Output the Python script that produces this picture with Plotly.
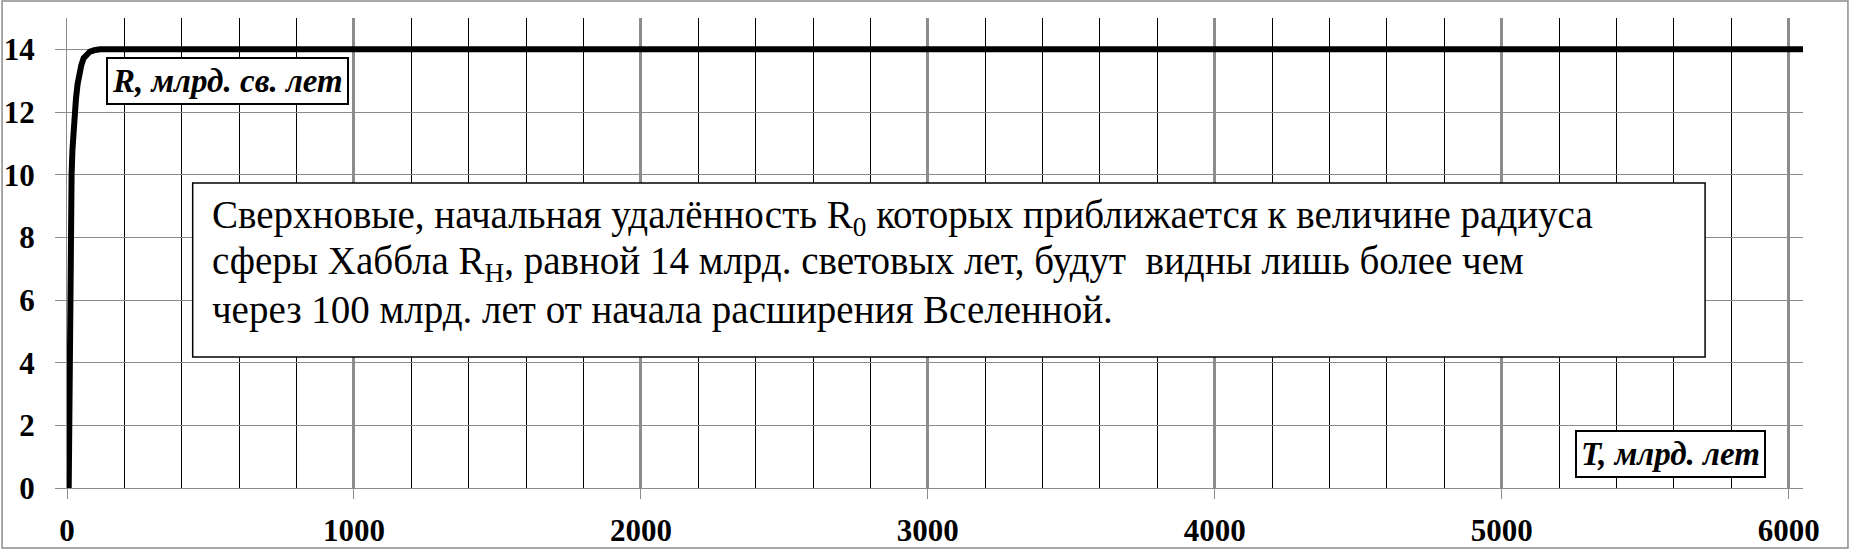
import plotly.graph_objects as go

# time, bn years / distance, bn light years
t_vals = [6, 7, 8, 9, 10.5, 12, 14, 16, 19, 23, 27, 31, 37, 43, 50, 58, 68, 80, 95, 115, 150,
          300, 1000, 2000, 3000, 4000, 5000, 6050]
r_vals = [0, 2, 4, 6, 8, 8.7, 9.4, 10, 10.8, 11.5, 12, 12.4, 12.9, 13.25, 13.5, 13.72, 13.85, 13.93,
          13.97, 14, 14, 14, 14, 14, 14, 14, 14, 14]

note_lines = [
    "Сверхновые, начальная удалённость R<sub>0</sub> которых приближается к величине радиуса",
    "сферы Хаббла R<sub>H</sub>, равной 14 млрд. световых лет, будут  видны лишь более чем",
    "через 100 млрд. лет от начала расширения Вселенной.",
]
y_title = "R, млрд. св. лет"
x_title = "T, млрд. лет"

serif = "Liberation Serif, Times New Roman, DejaVu Serif, serif"

fig = go.Figure()
fig.add_trace(go.Scatter(x=t_vals, y=r_vals, mode="lines",
                         line=dict(color="black", width=6), showlegend=False,
                         hoverinfo="skip"))

fig.update_xaxes(range=[0, 6050], dtick=1000, tick0=0, automargin=False,
                 showgrid=True, gridcolor="#8c8c8c", gridwidth=3,
                 minor=dict(dtick=200, showgrid=True, gridcolor="black", gridwidth=1, ticks=""),
                 zeroline=False, showline=True, linecolor="#8c8c8c", linewidth=1,
                 ticks="outside", ticklen=10, tickcolor="#8c8c8c", tickwidth=1,
                 ticklabelstandoff=5,
                 tickfont=dict(family=serif, size=31, color="black", weight="bold"))
fig.update_yaxes(range=[0, 15], dtick=2, tick0=0, automargin=False,
                 showgrid=True, gridcolor="#8c8c8c", gridwidth=1,
                 zeroline=False, showline=True, linecolor="#8c8c8c", linewidth=1,
                 ticks="outside", ticklen=11, tickcolor="#8c8c8c", tickwidth=1,
                 ticklabelstandoff=14,
                 tickfont=dict(family=serif, size=31, color="black", weight="bold"))

# note box
fig.add_shape(type="rect", xref="paper", yref="paper",
              x0=0.0724, x1=0.9436, y0=0.2787, y1=0.6489,
              line=dict(color="black", width=1.5), fillcolor="white", layer="above")
for i, txt in enumerate(note_lines):
    fig.add_annotation(xref="paper", yref="paper", x=0.0824, y=0.576 - i * 0.099,
                       xanchor="left", yanchor="middle", text=txt, showarrow=False,
                       font=dict(family=serif, size=39, color="black"))

# axis captions
fig.add_annotation(xref="paper", yref="paper", x=0.0927, y=0.867, text=y_title,
                   xanchor="center", yanchor="middle",
                   showarrow=False, bgcolor="white", bordercolor="black", borderwidth=2,
                   borderpad=4,
                   font=dict(family=serif, size=33, color="black", weight="bold", style="italic"))
fig.add_annotation(xref="paper", yref="paper", x=0.9234, y=0.0713, text=x_title,
                   xanchor="center", yanchor="middle",
                   showarrow=False, bgcolor="white", bordercolor="black", borderwidth=2,
                   borderpad=4,
                   font=dict(family=serif, size=33, color="black", weight="bold", style="italic"))

# outer frame
fig.add_shape(type="rect", xref="paper", yref="paper",
              x0=-0.0374, x1=1.0259, y0=-0.1277, y1=1.036,
              line=dict(color="#8c8c8c", width=1.5))

fig.update_layout(width=1850, height=549, margin=dict(l=67, r=47, t=18, b=61),
                  paper_bgcolor="white", plot_bgcolor="white")

fig.write_html("out.html", config={"displayModeBar": False},
               post_script="document.body.style.margin = '0';")
